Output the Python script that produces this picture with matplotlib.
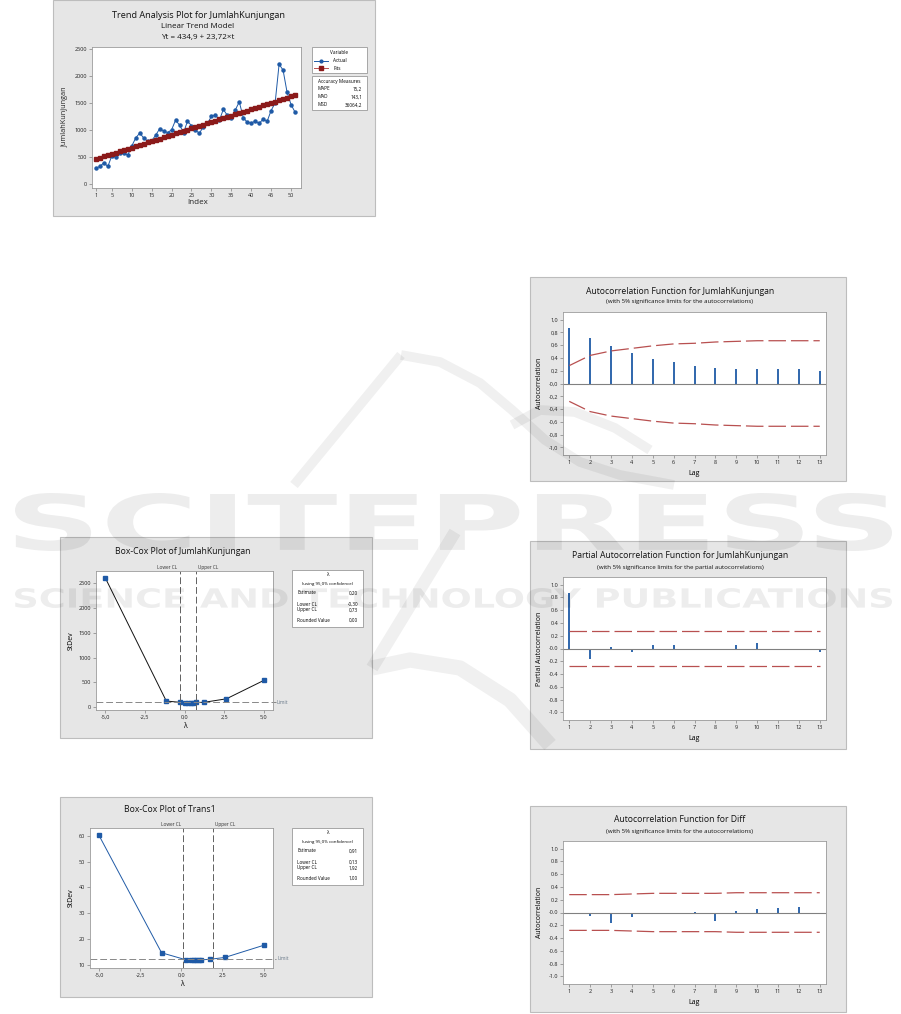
import numpy as np
import matplotlib.pyplot as plt
from matplotlib.patches import Rectangle, PathPatch
from matplotlib.textpath import TextPath
from matplotlib.transforms import Affine2D
from matplotlib.font_manager import FontProperties

plt.rcParams['font.family'] = ['Open Sans', 'DejaVu Sans']

# DATA

trend_index = list(range(1, 52))
trend_actual = [290, 320, 390, 320, 520, 500, 570, 570, 530, 700,
                850, 940, 850, 790, 800, 900, 1020, 980, 950, 1000,
                1180, 1090, 950, 1160, 1080, 990, 940, 1060, 1120, 1250,
                1280, 1180, 1380, 1270, 1220, 1370, 1520, 1230, 1140, 1130,
                1160, 1120, 1200, 1160, 1360, 1500, 2220, 2110, 1700, 1470,
                1330]
trend_intercept = 434.9
trend_slope = 23.72
accuracy = [("MAPE", "15,2"), ("MAD", "143,1"), ("MSD", "36064,2")]

bc1_lambda = [-5.0, -1.15, -0.3, 0.0, 0.2, 0.4, 0.55, 0.7, 1.25, 2.65, 5.0]
bc1_stdev = [2600, 127, 102, 95, 93, 94, 96, 98, 102, 172, 540]
bc1_limit = 100
bc1_table = [("Estimate", "0,20"), ("Lower CL", "-0,30"), ("Upper CL", "0,73"), ("Rounded Value", "0,00")]
bc1_cl = (-0.30, 0.73)

bc2_lambda = [-5.0, -1.2, 0.27, 0.6, 0.75, 0.9, 1.05, 1.2, 1.77, 2.65, 5.0]
bc2_stdev = [60.1, 14.6, 11.9, 11.8, 11.75, 11.75, 11.8, 11.85, 12.1, 12.8, 17.5]
bc2_limit = 12.3
bc2_table = [("Estimate", "0,91"), ("Lower CL", "0,13"), ("Upper CL", "1,92"), ("Rounded Value", "1,00")]
bc2_cl = (0.13, 1.92)

lags = list(range(1, 14))
acf1 = [0.87, 0.72, 0.59, 0.48, 0.39, 0.33, 0.28, 0.25, 0.23, 0.23, 0.23, 0.23, 0.20]
acf1_limit = [0.28, 0.44, 0.51, 0.55, 0.59, 0.62, 0.63, 0.65, 0.66, 0.67, 0.67, 0.67, 0.67]
pacf1 = [0.87, -0.16, 0.02, -0.05, 0.05, 0.05, 0.0, 0.0, 0.06, 0.08, -0.01, -0.01, -0.06]
pacf1_limit = [0.28] * 13
acf_diff = [-0.02, -0.06, -0.17, -0.07, 0.0, -0.01, 0.01, -0.14, 0.02, 0.05, 0.07, 0.09, -0.02]
acf_diff_limit = [0.28, 0.28, 0.28, 0.29, 0.30, 0.30, 0.30, 0.30, 0.31, 0.31, 0.31, 0.31, 0.31]

BLUE = '#1f5aa6'
DARKRED = '#8b1a1a'
RED = '#b85050'
PANEL = '#e6e6e6'
W, H = 901, 1014


def rect(x0, y0, x1, y1):
    return [x0 / W, 1 - y1 / H, (x1 - x0) / W, (y1 - y0) / H]


def style(ax, size=4):
    for s in ax.spines.values():
        s.set_color('#9a9a9a')
        s.set_linewidth(0.6)
    ax.tick_params(labelsize=size, length=2, width=0.5, color='#808080', pad=1.5, labelcolor='#222222')


fig = plt.figure(figsize=(W / 100, H / 100), dpi=100)

bg = fig.add_axes([0, 0, 1, 1], zorder=-5)
bg.set_xlim(0, W)
bg.set_ylim(H, 0)
bg.axis('off')
for (x0, y0, x1, y1) in [(53, 0, 375, 216), (60, 537, 372, 738), (60, 797, 372, 997),
                         (530, 277, 846, 481), (530, 541, 846, 749), (530, 806, 846, 1012)]:
    bg.add_patch(Rectangle((x0, y0), x1 - x0, y1 - y0, facecolor=PANEL, edgecolor='#bdbdbd', lw=0.8))

ov = fig.add_axes([0, 0, 1, 1], zorder=10)
ov.set_xlim(0, W)
ov.set_ylim(H, 0)
ov.axis('off')
ov.patch.set_alpha(0)

# Trend analysis
ax = fig.add_axes(rect(92, 47, 301, 188))
fits = [trend_intercept + trend_slope * t for t in trend_index]
ax.plot(trend_index, trend_actual, color=BLUE, lw=0.7, marker='o', ms=2.2)
ax.plot(trend_index, fits, color=RED, lw=0.7, marker='s', ms=2.6, mfc=DARKRED, mec=DARKRED)
ax.set_xlim(0.02, 52.5)
ax.set_ylim(-80, 2540)
ax.set_xticks([1, 5, 10, 15, 20, 25, 30, 35, 40, 45, 50])
ax.set_yticks([0, 500, 1000, 1500, 2000, 2500])
style(ax)
ov.text(198, 16, 'Trend Analysis Plot for JumlahKunjungan', ha='center', va='center', fontsize=6.6, color='#111111')
ov.text(198, 27, 'Linear Trend Model', ha='center', va='center', fontsize=5.8, color='#111111')
ov.text(198, 37, 'Yt = 434,9 + 23,72×t', ha='center', va='center', fontsize=5.8, color='#111111')
ov.text(198, 203, 'Index', ha='center', va='center', fontsize=5.8, color='#222222')
ov.text(65, 117, 'JumlahKunjungan', ha='center', va='center', rotation=90, fontsize=5.2, color='#222222')
ov.add_patch(Rectangle((312, 47), 55, 26, facecolor='white', edgecolor='#9a9a9a', lw=0.6))
ov.text(339, 52, 'Variable', ha='center', va='center', fontsize=3.4)
ov.plot([314, 328], [61, 61], color=BLUE, lw=0.7)
ov.plot([321], [61], color=BLUE, marker='o', ms=2)
ov.text(333, 61, 'Actual', va='center', fontsize=3.4)
ov.plot([314, 328], [68, 68], color=RED, lw=0.7)
ov.plot([321], [68], color=DARKRED, marker='s', ms=2.4)
ov.text(333, 68, 'Fits', va='center', fontsize=3.4)
ov.add_patch(Rectangle((312, 76), 55, 34, facecolor='white', edgecolor='#9a9a9a', lw=0.6))
ov.text(339, 81, 'Accuracy Measures', ha='center', va='center', fontsize=3.4)
for i, (k, v) in enumerate(accuracy):
    ov.text(317, 89 + 8 * i, k, va='center', fontsize=3.3)
    ov.text(362, 89 + 8 * i, v, va='center', ha='right', fontsize=3.3)


def boxcox(box, lam, sd, limit, cl, table, xlim, ylim, yticks, ylabels, title, title_xy, line_color, tbl_box):
    ax = fig.add_axes(rect(*box))
    ax.plot(lam, sd, color=line_color, lw=0.7, marker='s', ms=2.6, mfc=BLUE, mec=BLUE)
    for c in cl:
        ax.axvline(c, color='#606060', lw=0.7, dashes=(7, 3))
    ax.plot([xlim[0], xlim[1] + 0.2], [limit, limit], color='#888888', lw=0.7, dashes=(7, 3), clip_on=False)
    ax.text(xlim[1] + 0.25, limit, 'Limit', va='center', fontsize=3.6, color='#6a7a8a')
    ax.text(cl[0] - 0.15, 1.01, 'Lower CL', transform=ax.get_xaxis_transform(), ha='right', va='bottom', fontsize=3.4, color='#333333')
    ax.text(cl[1] + 0.15, 1.01, 'Upper CL', transform=ax.get_xaxis_transform(), ha='left', va='bottom', fontsize=3.4, color='#333333')
    ax.set_xlim(*xlim)
    ax.set_ylim(*ylim)
    ax.set_xticks([-5, -2.5, 0, 2.5, 5])
    ax.set_xticklabels(['-5,0', '-2,5', '0,0', '2,5', '5,0'])
    ax.set_yticks(yticks)
    ax.set_yticklabels(ylabels)
    style(ax)
    ax.set_xlabel('λ', fontsize=5, labelpad=2)
    ax.set_ylabel('StDev', fontsize=5, labelpad=3)
    ov.text(title_xy[0], title_xy[1], title, ha='center', va='center', fontsize=6.2, color='#111111')
    x0, y0, x1, y1 = tbl_box
    ov.add_patch(Rectangle((x0, y0), x1 - x0, y1 - y0, facecolor='white', edgecolor='#9a9a9a', lw=0.6))
    xc = (x0 + x1) / 2
    ov.text(xc, y0 + 4, 'λ', ha='center', va='center', fontsize=3.4)
    ov.text(xc, y0 + 14, '(using 95,0% confidence)', ha='center', va='center', fontsize=3.2)
    ys = [y0 + 23, y0 + 34, y0 + 40, y0 + 50]
    for (k, v), yy in zip(table, ys):
        ov.text(x0 + 5, yy, k, va='center', fontsize=3.3)
        ov.text(x1 - 5, yy, v, ha='right', va='center', fontsize=3.3)


boxcox((96, 571, 273, 710), bc1_lambda, bc1_stdev, bc1_limit, bc1_cl, bc1_table,
       (-5.59, 5.59), (-53, 2740), [0, 500, 1000, 1500, 2000, 2500],
       ['0', '500', '1000', '1500', '2000', '2500'],
       'Box-Cox Plot of JumlahKunjungan', (183, 552), '#111111', (292, 570, 363, 627))
boxcox((90, 828, 273, 968), bc2_lambda, bc2_stdev, bc2_limit, bc2_cl, bc2_table,
       (-5.55, 5.57), (8.7, 63), [10, 20, 30, 40, 50, 60],
       ['10', '20', '30', '40', '50', '60'],
       'Box-Cox Plot of Trans1', (170, 810), BLUE, (292, 828, 363, 885))


def acf_panel(box, values, limit, title, subtitle, ylabel, title_y, decimal):
    ax = fig.add_axes(rect(*box))
    ax.vlines(lags, 0, values, color=BLUE, lw=1.3)
    ax.axhline(0, color='#808080', lw=0.8)
    ax.plot(lags, limit, color=RED, lw=0.9, dashes=(14, 4))
    ax.plot(lags, [-v for v in limit], color=RED, lw=0.9, dashes=(14, 4))
    ax.set_xlim(0.7, 13.3)
    ax.set_ylim(-1.12, 1.12)
    ax.set_xticks(lags)
    yt = np.round(np.arange(-1.0, 1.01, 0.2), 1)
    ax.set_yticks(yt)
    ax.set_yticklabels([f'{v:.1f}'.replace('.', decimal) for v in yt])
    style(ax)
    ax.set_xlabel('Lag', fontsize=5, labelpad=4)
    ax.set_ylabel(ylabel, fontsize=5, labelpad=4)
    ov.text(680, title_y, title, ha='center', va='center', fontsize=6.2, color='#111111')
    ov.text(680, title_y + 11, subtitle, ha='center', va='center', fontsize=4.4, color='#111111')


acf_panel((563, 312, 826, 455), acf1, acf1_limit, 'Autocorrelation Function for JumlahKunjungan',
          '(with 5% significance limits for the autocorrelations)', 'Autocorrelation', 291, ',')
acf_panel((563, 577, 826, 720), pacf1, pacf1_limit, 'Partial Autocorrelation Function for JumlahKunjungan',
          '(with 5% significance limits for the partial autocorrelations)', 'Partial Autocorrelation', 556, '.')
acf_panel((563, 841, 826, 984), acf_diff, acf_diff_limit, 'Autocorrelation Function for Diff',
          '(with 5% significance limits for the autocorrelations)', 'Autocorrelation', 820, '.')


# watermark
def wm_text(s, x0, y0, x1, y1):
    tp = TextPath((0, 0), s, size=1, prop=FontProperties(family='DejaVu Sans', weight='bold'))
    ext = tp.get_extents()
    tr = Affine2D().translate(-ext.x0, -ext.y0).scale((x1 - x0) / ext.width, -(y1 - y0) / ext.height).translate(x0, y1)
    ov.add_patch(PathPatch(tr.transform_path(tp), facecolor='black', edgecolor='none', alpha=0.07))


wm_text('SCITEPRESS', 15, 493, 892, 551)
wm_text('SCIENCE AND TECHNOLOGY PUBLICATIONS', 15, 588, 892, 608)
sw = dict(color='black', alpha=0.06, solid_capstyle='butt')
ov.plot([294, 401], [485, 355], lw=7, **sw)
ov.plot([401, 440, 480, 512, 545, 580, 620, 674], [355, 362, 383, 410, 440, 462, 475, 485], lw=7, **sw)
ov.plot([512, 540, 575, 615, 650], [425, 410, 412, 428, 450], lw=7, **sw)
ov.plot([455, 372], [532, 668], lw=9, **sw)
ov.plot([372, 410, 460, 510, 550], [668, 660, 668, 700, 745], lw=11, **sw)

fig.savefig('out.png', dpi=100)
